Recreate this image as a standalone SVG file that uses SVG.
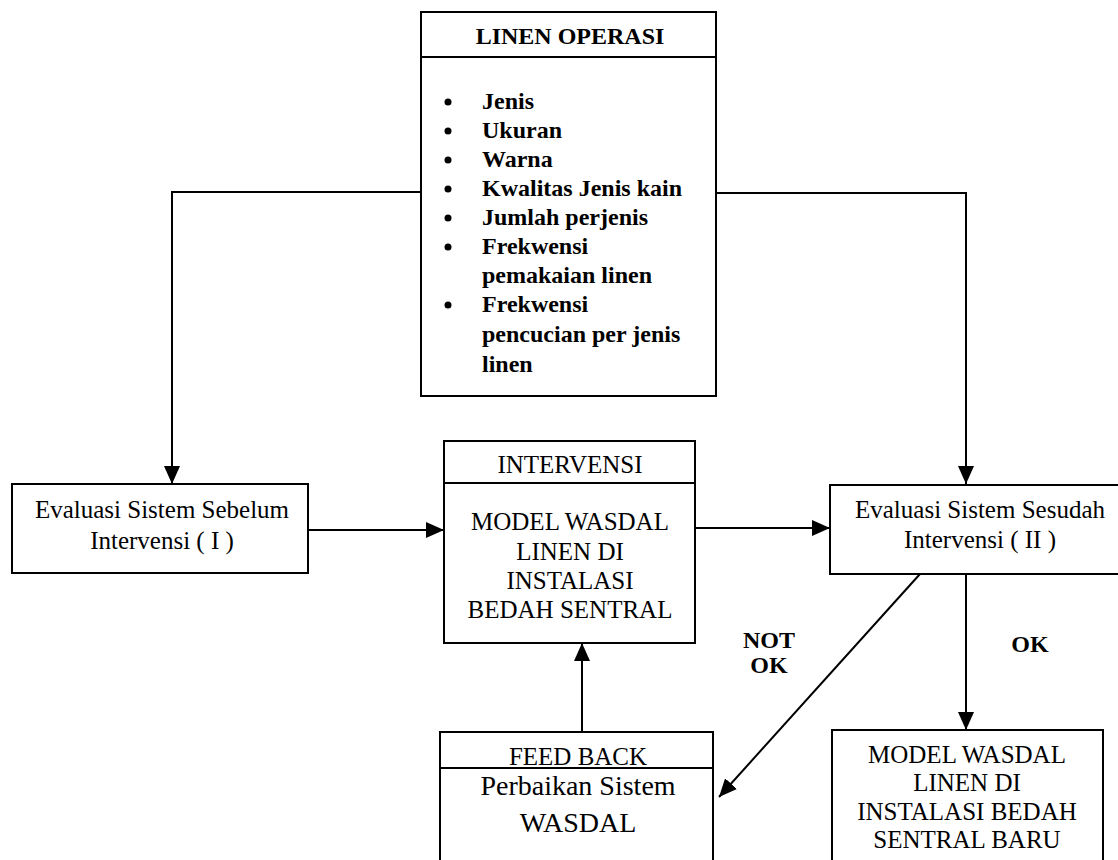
<svg xmlns="http://www.w3.org/2000/svg" width="1118" height="860" viewBox="0 0 1118 860">
<style>
.box{fill:#fff;stroke:#000;stroke-width:2}
.ln{fill:none;stroke:#000;stroke-width:2}
.t{font-family:"Liberation Serif",serif;font-size:25px;fill:#000;text-anchor:middle}
.big{font-size:28px}
.b{font-family:"Liberation Serif",serif;font-size:24px;font-weight:bold;fill:#000}
.c{text-anchor:middle}
</style>
<defs>
<marker id="ah" markerUnits="userSpaceOnUse" markerWidth="18" markerHeight="16" viewBox="0 0 18 16" refX="18" refY="8" orient="auto">
<path d="M0,0 L18,8 L0,16 Z" fill="#000"/>
</marker>
</defs>
<rect width="1118" height="860" fill="#fff"/>
<g id="connectors">
<polyline class="ln" points="421,192 172,192 172,484" marker-end="url(#ah)"/>
<polyline class="ln" points="716,193 966,193 966,484" marker-end="url(#ah)"/>
<line class="ln" x1="308" y1="530" x2="444" y2="530" marker-end="url(#ah)"/>
<line class="ln" x1="695" y1="528" x2="830" y2="528" marker-end="url(#ah)"/>
<line class="ln" x1="966" y1="574" x2="966" y2="730" marker-end="url(#ah)"/>
<line class="ln" x1="920" y1="574" x2="719" y2="797" marker-end="url(#ah)"/>
<line class="ln" x1="582" y1="732" x2="582" y2="643" marker-end="url(#ah)"/>
<text class="b c" x="769" y="648">NOT</text>
<text class="b c" x="769" y="673">OK</text>
<text class="b c" x="1030" y="652">OK</text>
</g>
<g id="linen-operasi">
<rect class="box" x="421" y="12" width="295" height="384"/>
<line class="ln" x1="421" y1="57" x2="716" y2="57"/>
<text class="b c" x="570" y="44">LINEN OPERASI</text>
<g fill="#000">
<circle cx="448" cy="102" r="3.5"/>
<circle cx="448" cy="131" r="3.5"/>
<circle cx="448" cy="160" r="3.5"/>
<circle cx="448" cy="189" r="3.5"/>
<circle cx="448" cy="218" r="3.5"/>
<circle cx="448" cy="247" r="3.5"/>
<circle cx="448" cy="305" r="3.5"/>
</g>
<text class="b" x="482" y="109">Jenis</text>
<text class="b" x="482" y="138">Ukuran</text>
<text class="b" x="482" y="167">Warna</text>
<text class="b" x="482" y="196">Kwalitas Jenis kain</text>
<text class="b" x="482" y="225">Jumlah perjenis</text>
<text class="b" x="482" y="254">Frekwensi</text>
<text class="b" x="482" y="283">pemakaian linen</text>
<text class="b" x="482" y="312">Frekwensi</text>
<text class="b" x="482" y="342">pencucian per jenis</text>
<text class="b" x="482" y="372">linen</text>
</g>
<g id="evaluasi-sebelum">
<rect class="box" x="12" y="484" width="296" height="89"/>
<text class="t" x="162" y="518">Evaluasi Sistem Sebelum</text>
<text class="t" x="162" y="549">Intervensi ( I )</text>
</g>
<g id="intervensi">
<rect class="box" x="444" y="441" width="251" height="202"/>
<line class="ln" x1="444" y1="483" x2="695" y2="483"/>
<text class="t" x="570" y="473">INTERVENSI</text>
<text class="t" x="570" y="530">MODEL WASDAL</text>
<text class="t" x="570" y="560">LINEN DI</text>
<text class="t" x="570" y="589">INSTALASI</text>
<text class="t" x="570" y="618">BEDAH SENTRAL</text>
</g>
<g id="evaluasi-sesudah">
<rect class="box" x="830" y="485" width="300" height="89"/>
<text class="t" x="980" y="518">Evaluasi Sistem Sesudah</text>
<text class="t" x="980" y="548">Intervensi ( II )</text>
</g>
<g id="feed-back">
<rect class="box" x="440" y="732" width="273" height="140"/>
<line class="ln" x1="440" y1="768" x2="713" y2="768"/>
<text class="t" x="578" y="765">FEED BACK</text>
<text class="t big" x="578" y="795">Perbaikan Sistem</text>
<text class="t big" x="578" y="832">WASDAL</text>
</g>
<g id="model-baru">
<rect class="box" x="832" y="730" width="271" height="140"/>
<text class="t" x="967" y="763">MODEL WASDAL</text>
<text class="t" x="967" y="791">LINEN DI</text>
<text class="t" x="967" y="820">INSTALASI BEDAH</text>
<text class="t" x="967" y="848">SENTRAL BARU</text>
</g>
</svg>
